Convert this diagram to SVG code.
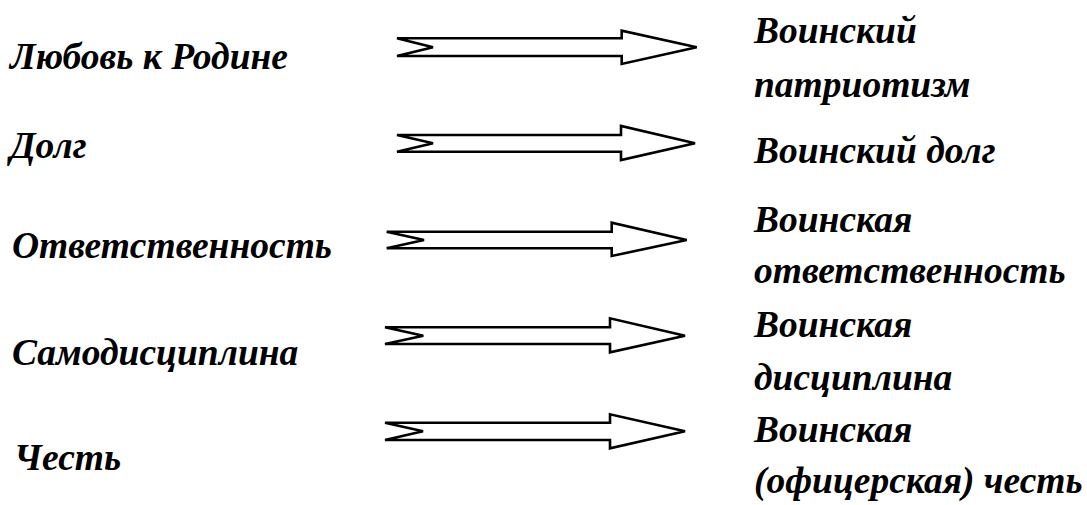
<svg xmlns="http://www.w3.org/2000/svg" width="1087" height="505" viewBox="0 0 1087 505">
<style>
text{font-family:"Liberation Serif","Times New Roman",serif;font-weight:bold;font-style:italic;font-size:37.5px;fill:#000}
.arr{fill:#fff;stroke:#000;stroke-width:2.6;stroke-linejoin:miter}
</style>
<rect width="1087" height="505" fill="#fff"/>
<g id="connectors">
<path class="arr" d="M397,38.3 H621.7 V30.7 L696.7,47.3 L621.7,64 V56 H397 L433,47.3 Z"/>
<path class="arr" d="M397,135 H621 V126 L695,143.3 L621,160 V151.7 H397 L433,143.3 Z"/>
<path class="arr" d="M386.7,231.7 H611.7 V222.7 L686.7,240 L611.7,256 V248.3 H386.7 L424,240 Z"/>
<path class="arr" d="M385,327.3 H610 V318.3 L685,335.7 L610,352.3 V344 H385 L423.3,335.7 Z"/>
<path class="arr" d="M385,422.7 H610 V414.3 L685,431.3 L610,448.3 V440 H385 L423,431.3 Z"/>
</g>
<g id="n-love"><text x="10" y="69">Любовь к Родине</text></g>
<g id="n-duty"><text x="10" y="158">Долг</text></g>
<g id="n-resp"><text x="12" y="257.7">Ответственность</text></g>
<g id="n-selfdisc"><text x="12" y="365">Самодисциплина</text></g>
<g id="n-honor"><text x="14" y="470">Честь</text></g>
<g id="n-patriot"><text x="754" y="43.3">Воинский</text><text x="754" y="96.7">патриотизм</text></g>
<g id="n-mduty"><text x="754" y="163">Воинский долг</text></g>
<g id="n-mresp"><text x="754" y="231.7">Воинская</text><text x="754" y="283.3">ответственность</text></g>
<g id="n-mdisc"><text x="754" y="336.7">Воинская</text><text x="754" y="390">дисциплина</text></g>
<g id="n-mhonor"><text x="754" y="441.7">Воинская</text><text x="754" y="493.3">(офицерская) честь</text></g>
</svg>
